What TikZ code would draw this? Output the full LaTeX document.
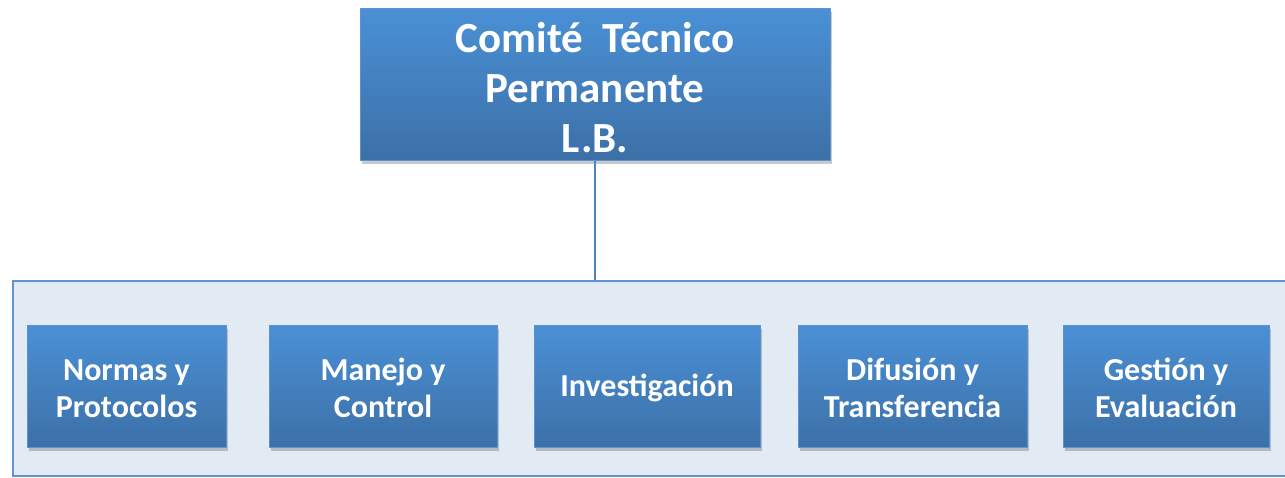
\documentclass[tikz,border=0pt]{standalone}
\usepackage{fontspec}
\setmainfont{Carlito}
\usetikzlibrary{positioning,shadows}

\definecolor{boxtop}{HTML}{4A90D6}
\definecolor{boxbottom}{HTML}{3C70A7}
\definecolor{boxline}{HTML}{5A93D0}
\definecolor{framefill}{HTML}{E2EAF4}
\definecolor{frameline}{HTML}{5F93D1}
\definecolor{linkline}{HTML}{4F84C4}
\newcommand{\topstrut}{\rule{0pt}{0.85em}}

\begin{document}
\begin{tikzpicture}[x=1pt,y=-1pt]
\tikzset{
  orgbox/.style={rectangle,draw=boxline,line width=1pt,top color=boxtop,bottom color=boxbottom,text=white,align=center,inner sep=0pt,drop shadow={shadow xshift=2pt,shadow yshift=-4pt,opacity=0.3,fill=black!70}},
  headbox/.style={orgbox,minimum width=470pt,minimum height=152pt,font=\bfseries\fontsize{43}{50}\selectfont},
  unitbox/.style={orgbox,minimum height=122pt,font=\bfseries\fontsize{32}{37}\selectfont},
  groupframe/.style={rectangle,draw=frameline,line width=2pt,fill=framefill,inner sep=0pt},
  orgedge/.style={draw=linkline,line width=1.5pt}
}
\clip (0,0) rectangle (1285,477);
\node[groupframe,minimum width=1287pt,minimum height=195pt] (grupo) at (656.5,378.5) {};
\node[headbox] (comite) at (595,84) {\topstrut Comité\ \ Técnico\\Permanente\\L.B.};
\node[unitbox,minimum width=199pt] (normas) at (126.5,386) {\topstrut Normas y\\Protocolos};
\node[unitbox,minimum width=228pt] (manejo) at (383,386) {\topstrut Manejo y\\Control};
\node[unitbox,minimum width=226pt] (investigacion) at (647,386) {\topstrut Investigación};
\node[unitbox,minimum width=229pt] (difusion) at (912.5,386) {\topstrut Difusión y\\Transferencia};
\node[unitbox,minimum width=206pt] (gestion) at (1166,386) {\topstrut Gestión y\\Evaluación};
\draw[orgedge] (comite.south) -- (comite.south |- grupo.north);
\end{tikzpicture}
\end{document}
